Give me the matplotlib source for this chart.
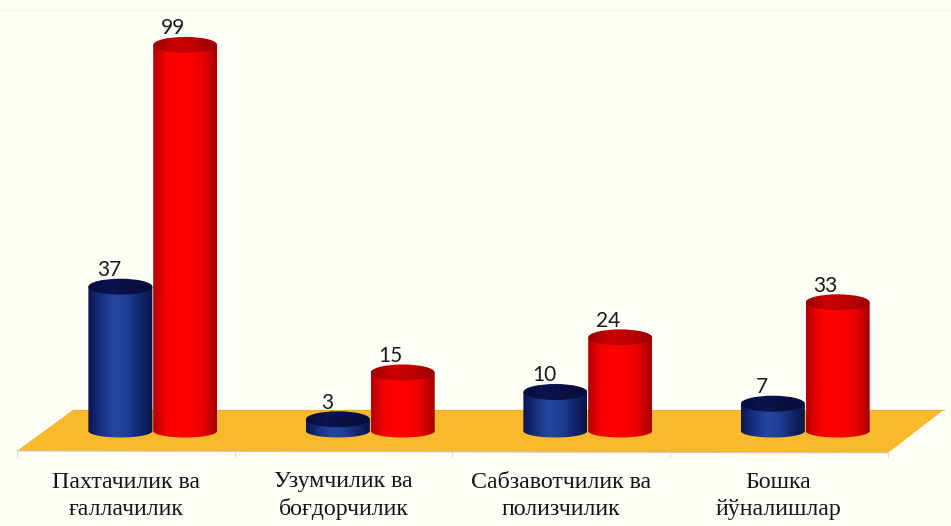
import numpy as np
import matplotlib
matplotlib.use("Agg")
import matplotlib.pyplot as plt
from matplotlib.colors import LinearSegmentedColormap
from matplotlib.patches import Ellipse, PathPatch, Polygon
from matplotlib.path import Path

categories = ["Пахтачилик ва\nғаллачилик", "Узумчилик ва\nбоғдорчилик",
              "Сабзавотчилик ва\nполизчилик", "Бошка\nйўналишлар"]
blue_values = [37, 3, 10, 7]
red_values = [99, 15, 24, 33]

# axis scale: 1 category = 217.5 px, 1 unit = 3.9 px
W, H = 951, 526
px_x = 217.5
px_y = 3.9
x0, y0 = 153, 431

fig = plt.figure(figsize=(W / 100, H / 100), dpi=100, facecolor="#fefef6")
ax = fig.add_axes([0, 0, 1, 1])
xlim = (-x0 / px_x, (W - x0) / px_x)
ylim = ((y0 - H) / px_y, y0 / px_y)

bar_w = 64 / px_x
ell_h = 16 / px_y
base_h = 13 / px_y

blue_body = LinearSegmentedColormap.from_list("bb", ["#0b1550", "#16307f", "#24479f", "#1f3f94", "#12276c", "#0a1448"])
blue_top = LinearSegmentedColormap.from_list("bt", ["#060c3a", "#0c1450", "#0a1040", "#060c3a"])
red_body = LinearSegmentedColormap.from_list("rb", ["#b00000", "#f40000", "#ff0000", "#fa0000", "#e40000", "#a00000"])
red_top = LinearSegmentedColormap.from_list("rt", ["#980000", "#cc0000", "#bc0000", "#980000"])
grad = np.linspace(0, 1, 256).reshape(1, -1)


def cylinder(xc, value, base, body_cmap, top_cmap):
    left, right = xc - bar_w / 2, xc + bar_w / 2
    top = base + value
    t = np.linspace(np.pi, 2 * np.pi, 40)
    xs = xc + bar_w / 2 * np.cos(t)
    ys = base + base_h / 2 * np.sin(t)
    verts = list(zip(xs, ys)) + [(right, top), (left, top), (left, ys[0])]
    codes = [Path.MOVETO] + [Path.LINETO] * (len(verts) - 1)
    clip = PathPatch(Path(verts, codes), transform=ax.transData, fc="none", ec="none")
    ax.add_patch(clip)
    im = ax.imshow(grad, cmap=body_cmap, extent=[left, right, base - base_h, top], aspect="auto", zorder=3)
    im.set_clip_path(clip)

    cap = Ellipse((xc, top), bar_w, ell_h, transform=ax.transData, fc="none", ec="none")
    ax.add_patch(cap)
    im2 = ax.imshow(grad, cmap=top_cmap, extent=[left, right, top - ell_h, top + ell_h], aspect="auto", zorder=4)
    im2.set_clip_path(cap)


# floor
floor = Polygon([(-0.625, -5.1), (3.38, -5.6), (3.635, 5.4), (-0.368, 5.4)],
                closed=True, fc="#f8b92c", ec="none", zorder=1)
ax.add_patch(floor)
ax.plot([-0.625, 3.38], [-5.1, -5.6], color="#cfc4b8", lw=0.8, zorder=2)
ax.plot([-0.368, 3.635], [5.4, 5.4], color="#e8ab24", lw=0.6, zorder=2)
for i in range(5):
    tx = -0.625 + i * 1.001
    ax.plot([tx, tx], [-5.3, -6.6], color="#dcdcd4", lw=0.7, zorder=2)

# faint frame line at the top
ax.plot(xlim, [107.9, 107.9], color="#f6f6ea", lw=1, zorder=0)

for i, (b, r) in enumerate(zip(blue_values, red_values)):
    xb = i - 0.15
    xr = i + 0.148
    cylinder(xb, b, 0, blue_body, blue_top)
    cylinder(xr, r, 0, red_body, red_top)
    ax.text(xb - 0.05, b + 4.3, str(b), ha="center", va="center", fontsize=15,
            family="Lato", color="#1a1a1a", zorder=5)
    ax.text(xr - 0.055, r + 4.3, str(r), ha="center", va="center", fontsize=15,
            family="Lato", color="#1a1a1a", zorder=5)
    ax.text(i - 0.125, -16.6, categories[i], ha="center", va="center", fontsize=17.2,
            family="Liberation Serif", color="#141414", linespacing=1.36, zorder=5)

ax.set_xlim(xlim)
ax.set_ylim(ylim)
ax.axis("off")
fig.savefig("out.png", dpi=100, facecolor=fig.get_facecolor())
